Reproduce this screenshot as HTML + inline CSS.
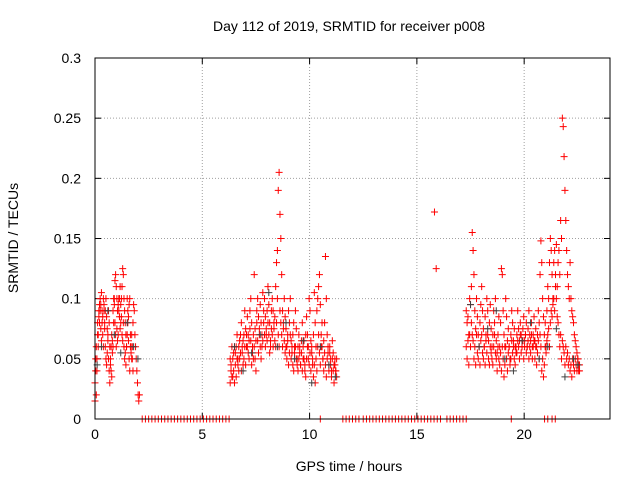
<!DOCTYPE html>
<html><head><meta charset="utf-8">
<style>
html,body{margin:0;padding:0;background:#fff;}
svg{display:block;font-family:"Liberation Sans",sans-serif;}
</style></head>
<body>
<svg id="chart" width="640" height="480" viewBox="0 0 640 480">
<rect width="640" height="480" fill="#fff"/>
<text x="349" y="31" font-size="14" text-anchor="middle">Day 112 of 2019, SRMTID for receiver p008</text>
<text x="349" y="471" font-size="14" text-anchor="middle">GPS time / hours</text>
<text transform="translate(18,238) rotate(-90)" font-size="14" text-anchor="middle">SRMTID / TECUs</text>
<g id="grid"></g><g id="ticks"></g><g id="marks"></g>
<rect x="95" y="58" width="515" height="361" fill="none" stroke="#000" stroke-width="1"/>
</svg>
<script>
const xTicks=[0,5,10,15,20];
const yTicks=[0,0.05,0.1,0.15,0.2,0.25,0.3];
const yTickLabels=["0","0.05","0.1","0.15","0.2","0.25","0.3"];
// regularly sampled epochs: start hour and sampling step for each active cluster
const clusterStart=[0.0,6.3,17.3];
const clusterStep=[0.03,0.04,0.04];
const c1A=[.03,.05,.02,.04,.07,.06,.09,.08,.1,.095,.105,.09,.085,.1,.095,.08,.09,.1,.085,.075,.07,.09,.08,.06,.05,.04,.035,.065,.06,.08,.1,.115,.12,.11,.1,.09,.095,.1,.085,.075,.08,.1,.11,.125,.12,.1,.09,.08,.07,.06,.1,.09,.085,.095,.1,.07,.06,.05,.06,.08,.095,.09,.07,.06,.05,.04,.03,.02,.015,.02];
const c1B=[.015,.04,.06,.05,.08,.07,.085,.095,.09,.075,.065,.08,.07,.06,.09,.075,.06,.05,.045,.055,.065,.05,.04,.03,.045,.06,.07,.055,.09,.1,.095,.08,.07,.06,.075,.065,.07,.09,.1,.11,.095,.085,.07,.065,.08,.06,.05,.055,.045,.06,.07,.08,.065,.05,.04,.06,.055,.07,.05,.04];
const c2A=[.05,.04,.06,.035,.055,.03,.045,.06,.07,.05,.04,.065,.055,.08,.06,.045,.07,.09,.075,.06,
.085,.07,.065,.09,.1,.08,.06,.05,.12,.075,.065,.09,.1,.085,.07,.095,.08,.06,.105,.09,
.1,.085,.07,.09,.11,.095,.08,.06,.075,.1,.09,.08,.085,.11,.13,.14,.19,.205,.17,.15,
.12,.09,.08,.1,.085,.075,.06,.07,.09,.08,.1,.065,.055,.07,.08,.06,.09,.075,.05,.06,
.07,.055,.045,.065,.08,.06,.05,.04,.07,.085,.06,.05,.1,.09,.065,.055,.045,.07,.105,.08,
.06,.09,.1,.11,.12,.095,.07,.06,.05,.065,.08,.135,.1,.07,.055,.045,.06,.05,.04,.065,.055,.045,.05,.04,.035];
const c2B=[.03,.045,.035,.05,.04,.06,.055,.035,.05,.045,.06,.05,.07,.04,.055,.065,.05,.06,.045,.07,
.06,.055,.05,.075,.065,.045,.055,.07,.06,.05,.04,.08,.065,.055,.075,.06,.05,.07,.065,.08,
.07,.06,.075,.065,.08,.07,.055,.065,.09,.07,.06,.075,.065,.06,.08,.1,.07,.06,.09,.08,
.07,.06,.075,.065,.055,.06,.05,.065,.045,.055,.07,.05,.06,.045,.04,.055,.06,.05,.045,.04,
.05,.06,.045,.055,.04,.05,.065,.045,.035,.05,.07,.06,.045,.055,.04,.06,.05,.035,.045,.03,
.05,.04,.06,.07,.055,.045,.06,.08,.05,.04,.055,.045,.035,.05,.06,.04,.055,.045,.035,.05,.04,.03,.045,.04,.05];
const c3A=[.09,.08,.085,.07,.1,.095,.11,.155,.14,.12,.09,.075,.1,.085,.07,.06,.08,.095,.11,.09,
.075,.06,.085,.07,.1,.09,.065,.08,.095,.075,.06,.07,.09,.08,.1,.065,.055,.07,.085,.06,
.08,.125,.12,.09,.07,.06,.1,.085,.065,.075,.06,.05,.07,.09,.08,.065,.075,.06,.055,.07,
.09,.075,.065,.08,.07,.06,.075,.085,.065,.07,.08,.06,.075,.09,.07,.065,.08,.06,.07,.085,
.065,.075,.06,.07,.09,.08,.12,.148,.13,.1,.085,.07,.08,.06,.09,.11,.1,.13,.15,.14,
.12,.1,.13,.14,.12,.145,.11,.13,.14,.12,.165,.15,.25,.243,.218,.19,.165,.14,.12,.11,
.1,.13,.1,.09,.085,.08,.07,.065,.06,.055,.05,.045,.04];
const c3B=[.06,.05,.065,.045,.07,.06,.08,.07,.065,.05,.06,.045,.07,.055,.05,.06,.045,.065,.07,.055,
.05,.06,.045,.065,.055,.07,.05,.045,.06,.055,.05,.045,.06,.07,.055,.05,.04,.06,.05,.045,
.055,.04,.06,.05,.035,.045,.06,.05,.04,.055,.06,.045,.05,.065,.055,.06,.05,.045,.06,.055,
.065,.06,.05,.07,.055,.06,.065,.05,.06,.07,.055,.06,.065,.05,.06,.055,.07,.05,.06,.065,
.05,.06,.045,.055,.065,.05,.07,.06,.04,.05,.035,.045,.06,.055,.065,.07,.075,.06,.08,.09,
.085,.095,.1,.09,.11,.1,.085,.08,.07,.06,.07,.05,.065,.06,.055,.045,.06,.05,.055,.045,
.05,.04,.045,.035,.05,.045,.04,.05,.045,.04,.05,.04,.045];
const isoX=[15.82,15.9];
const isoY=[0.172,0.125];
const blackX=[0.1,0.3,0.6,0.9,1.2,1.5,1.8,2.0,6.5,6.9,7.3,7.7,8.1,8.5,8.9,9.3,9.7,10.1,10.5,10.9,11.2,17.5,17.9,18.3,18.7,19.1,19.5,19.9,20.3,20.7,21.1,21.5,21.9,22.3,22.5];
const blackY=[0.045,0.06,0.09,0.07,0.055,0.08,0.06,0.05,0.06,0.04,0.055,0.07,0.105,0.06,0.08,0.05,0.065,0.03,0.06,0.045,0.035,0.095,0.06,0.075,0.09,0.05,0.04,0.065,0.08,0.05,0.06,0.075,0.035,0.05,0.045];
const zeroX=[2.2,2.35,2.5,2.65,2.8,2.95,3.1,3.25,3.4,3.55,3.7,3.85,4.0,4.15,4.3,4.45,4.6,4.75,4.9,5.05,5.2,5.35,5.5,5.65,5.8,5.95,6.1,6.25,10.5,11.55,11.7,11.85,12.0,12.15,12.3,12.5,12.65,12.8,12.95,13.1,13.25,13.4,13.55,13.7,13.85,14.0,14.15,14.3,14.45,14.6,14.75,14.9,15.05,15.2,15.35,15.5,15.65,15.8,15.95,16.1,16.4,16.55,16.7,16.85,17.0,17.15,17.3,19.4,20.95,21.1,21.3,21.45];

const X0=95,X1=610,Y0=419,Y1=58,XMAX=24,YMAX=0.3;
const sx=v=>X0+(X1-X0)*v/XMAX;
const sy=v=>Y0-(Y0-Y1)*v/YMAX;
const NS="http://www.w3.org/2000/svg";
const grid=document.getElementById('grid'),ticks=document.getElementById('ticks'),marks=document.getElementById('marks');
function mk(tag,attrs,parent){const e=document.createElementNS(NS,tag);for(const k in attrs)e.setAttribute(k,attrs[k]);parent.appendChild(e);return e;}
xTicks.forEach(t=>{
  const x=sx(t);
  if(t>0){const g=mk('line',{x1:x,x2:x,y1:Y1,y2:Y0,stroke:'#a0a0a0','stroke-dasharray':'1,2'},grid);
  
  }
  mk('line',{x1:x,x2:x,y1:Y0,y2:Y0-6,stroke:'#000'},ticks);
  mk('line',{x1:x,x2:x,y1:Y1,y2:Y1+6,stroke:'#000'},ticks);
  const l=mk('text',{x:x,y:Y0+20,'font-size':14,'text-anchor':'middle'},ticks);
  l.textContent=String(t);
  
  
});
yTicks.forEach((t,i)=>{
  const y=sy(t);
  if(t>0&&t<YMAX){const g=mk('line',{x1:X0,x2:X1,y1:y,y2:y,stroke:'#a0a0a0','stroke-dasharray':'1,2'},grid);
  
  }
  mk('line',{x1:X0,x2:X0+6,y1:y,y2:y,stroke:'#000'},ticks);
  mk('line',{x1:X1,x2:X1-6,y1:y,y2:y,stroke:'#000'},ticks);
  const l=mk('text',{x:X0-14,y:y+5,'font-size':14,'text-anchor':'end'},ticks);
  l.textContent=yTickLabels[i];
  
  
});
function plus(x,y,color,name){
  const p=mk('path',{d:`M${x-3.5},${y}H${x+3.5}M${x},${y-3.5}V${y+3.5}`,stroke:color,'stroke-width':1,fill:'none'},marks);
  
  
}
const clusters=[[c1A,c1B],[c2A,c2B],[c3A,c3B]];
clusters.forEach((pair,c)=>{
  pair.forEach(vals=>{
    vals.forEach((v,i)=>plus(sx(clusterStart[c]+clusterStep[c]*i),sy(v),'#ff0000','red-point'));
  });
});
isoX.forEach((h,i)=>plus(sx(h),sy(isoY[i]),'#ff0000','red-point'));
zeroX.forEach(h=>plus(sx(h),sy(0),'#ff0000','zero-point'));
blackX.forEach((h,i)=>plus(sx(h),sy(blackY[i]),'#404040','black-point'));
</script>
</body></html>
